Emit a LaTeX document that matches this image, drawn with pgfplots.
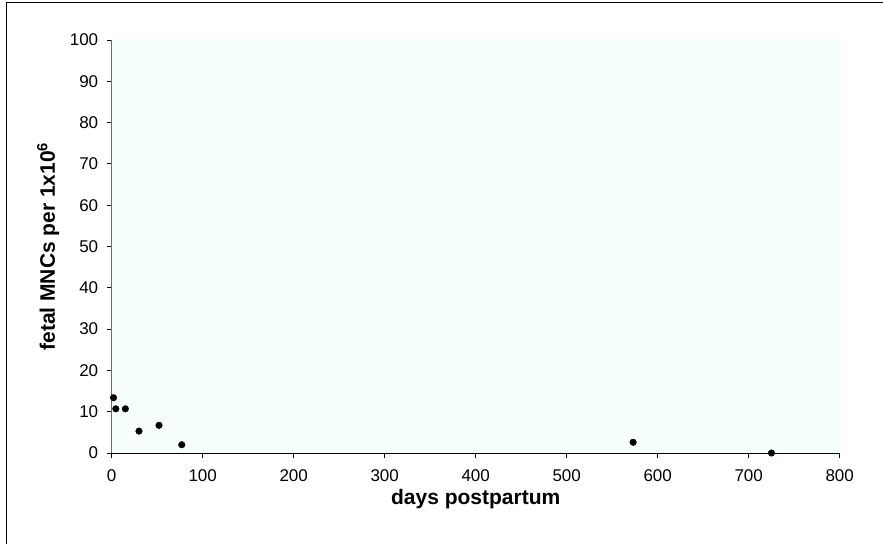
\documentclass[border=0pt]{standalone}
\usepackage{fontspec}
\setmainfont{Liberation Sans}
\usepackage{pgfplots}
\pgfplotsset{compat=1.18}
\definecolor{plotbg}{RGB}{247,254,254}
\definecolor{yaxisgray}{RGB}{110,110,110}
\begin{document}
\begin{tikzpicture}
\useasboundingbox (0,0) rectangle (883pt,544pt);
\fill[white] (0,0) rectangle (883pt,544pt);
\draw[line width=1.5pt] (6.5pt,0) -- (6.5pt,541.5pt) -- (883pt,541.5pt);
\begin{axis}[
  at={(111.7pt,91pt)}, anchor=south west,
  scale only axis, width=728pt, height=413pt,
  xmin=0, xmax=800, ymin=0, ymax=100,
  xtick={0,100,...,800}, ytick={0,10,...,100},
  axis x line*=bottom, axis y line*=left,
  x axis line style={black, line width=1pt},
  y axis line style={yaxisgray, line width=1pt},
  tick align=outside, major tick length=5pt,
  every tick/.style={black, line width=0.8pt},
  axis background/.style={fill=plotbg},
  tick label style={font=\fontsize{17}{20}\selectfont},
  xticklabel style={yshift=-8pt},
  yticklabel style={xshift=-5pt},
  /pgf/number format/assume math mode=true,
  xlabel={days postpartum},
  ylabel={fetal MNCs per 1x10\textsuperscript{6}},
  label style={font=\fontsize{21}{24}\selectfont\bfseries},
  xlabel style={at={(axis description cs:0.5,-0.1259)}, anchor=base},
  ylabel style={at={(axis description cs:-0.0779,0.5)}, anchor=base},
  clip=false,
]
\addplot[only marks, mark=*, mark size=3.3pt, black] coordinates {
  (2,13.4) (4.5,10.7) (15,10.7) (30,5.3) (52,6.7) (77,2.0) (573,2.6) (725,0)
};
\end{axis}
\end{tikzpicture}
\end{document}
